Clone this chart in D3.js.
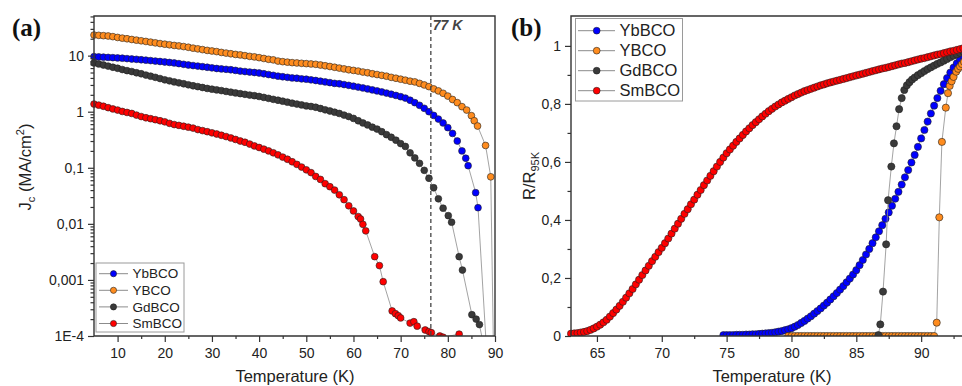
<!DOCTYPE html>
<html>
<head>
<meta charset="utf-8">
<script src="https://cdn.jsdelivr.net/npm/d3@7"></script>
<style>
  body { margin: 0; background: #fff; }
  svg { display: block; }
</style>
</head>
<body>
<script>

// ---------- data (a): Jc vs T, [T (K), Jc (MA/cm2)] ----------
const ybbcoJc = [[5,9.6],[6,9.5],[7,9.4],[8,9.3],[9,9.2],[10,9.1],[11,9.0],[12,8.85],[13,8.7],[14,8.6],[15,8.45],[16,8.3],[17,8.15],[18,8.0],[19,7.85],[20,7.7],[21,7.55],[22,7.4],[23,7.2],[24,7.0],[25,6.8],[26,6.65],[27,6.5],[28,6.35],[29,6.2],[30,6.05],[31,5.9],[32,5.8],[33,5.7],[34,5.6],[35,5.45],[36,5.3],[37,5.2],[38,5.1],[39,5.0],[40,4.9],[41,4.75],[42,4.6],[43,4.45],[44,4.3],[45,4.2],[46,4.1],[47,4.0],[48,3.95],[49,3.85],[50,3.8],[51,3.7],[52,3.6],[53,3.5],[54,3.4],[55,3.3],[56,3.2],[57,3.15],[58,3.05],[59,2.95],[60,2.85],[61,2.75],[62,2.65],[63,2.55],[64,2.45],[65,2.35],[66,2.25],[67,2.15],[68,2.05],[69,1.95],[70,1.85],[71,1.75],[72,1.6],[73,1.45],[74,1.3],[75,1.15],[76,1.0],[77,0.86],[78,0.74],[79,0.63],[80,0.52],[81,0.41],[82,0.3],[83,0.2],[83.8,0.148],[84.3,0.109],[85.9,0.036],[86.4,0.0194],[88.4,0.00003]];
const ybcoJc = [[5,23.3],[6,23.0],[7,22.7],[8,22.4],[9,21.8],[10,21.1],[11,20.5],[12,20.0],[13,19.4],[14,18.9],[15,18.4],[16,17.9],[17,17.4],[18,16.9],[19,16.4],[20,16.0],[21,15.6],[22,15.2],[23,14.9],[24,14.5],[25,14.1],[26,13.6],[27,13.2],[28,12.8],[29,12.4],[30,12.1],[31,11.8],[32,11.4],[33,11.1],[34,10.8],[35,10.5],[36,10.3],[37,10.0],[38,9.7],[39,9.5],[40,9.2],[41,8.9],[42,8.6],[43,8.4],[44,8.0],[45,7.8],[46,7.65],[47,7.5],[48,7.4],[49,7.3],[50,7.2],[51,7.1],[52,7.0],[53,6.8],[54,6.6],[55,6.4],[56,6.2],[57,6.0],[58,5.8],[59,5.6],[60,5.45],[61,5.3],[62,5.1],[63,4.95],[64,4.75],[65,4.6],[66,4.45],[67,4.3],[68,4.1],[69,3.95],[70,3.8],[71,3.65],[72,3.5],[73,3.4],[74,3.2],[75,3.0],[76,2.8],[77,2.55],[78,2.35],[79,2.13],[80,1.9],[81,1.65],[82,1.45],[83,1.23],[84,1.07],[85,0.85],[85.6,0.69],[86.3,0.556],[88.0,0.25],[89.1,0.069],[90,0.000001]];
const gdbcoJc = [[5,7.4],[6,7.1],[7,6.8],[8,6.5],[9,6.2],[10,5.95],[11,5.65],[12,5.4],[13,5.2],[14,4.95],[15,4.75],[16,4.5],[17,4.3],[18,4.1],[19,3.9],[20,3.7],[21,3.55],[22,3.4],[23,3.27],[24,3.15],[25,3.02],[26,2.9],[27,2.8],[28,2.7],[29,2.6],[30,2.52],[31,2.45],[32,2.38],[33,2.3],[34,2.23],[35,2.16],[36,2.1],[37,2.04],[38,1.98],[39,1.93],[40,1.87],[41,1.8],[42,1.73],[43,1.66],[44,1.6],[45,1.54],[46,1.48],[47,1.42],[48,1.37],[49,1.32],[50,1.27],[51,1.24],[52,1.2],[53,1.14],[54,1.08],[55,1.03],[56,0.98],[57,0.93],[58,0.87],[59,0.82],[60,0.76],[61,0.69],[62,0.63],[63,0.58],[64,0.53],[65,0.49],[66,0.44],[67,0.39],[68,0.35],[69,0.31],[70,0.27],[71,0.24],[72,0.185],[73,0.15],[74,0.12],[75,0.09],[76,0.065],[77,0.044],[78,0.028],[79,0.019],[80.1,0.014],[80.8,0.0107],[82.4,0.0026],[83.1,0.0015],[85.1,0.00024],[86.0,0.0002],[86.7,0.00016],[87.9,0.00005]];
const smbcoJc = [[5,1.37],[6,1.31],[7,1.25],[8,1.18],[9,1.12],[10,1.07],[11,1.01],[12,0.97],[13,0.93],[14,0.87],[15,0.82],[16,0.78],[17,0.75],[18,0.72],[19,0.69],[20,0.66],[21,0.62],[22,0.59],[23,0.57],[24,0.55],[25,0.53],[26,0.51],[27,0.48],[28,0.46],[29,0.44],[30,0.42],[31,0.40],[32,0.38],[33,0.36],[34,0.34],[35,0.32],[36,0.30],[37,0.285],[38,0.265],[39,0.245],[40,0.23],[41,0.215],[42,0.20],[43,0.185],[44,0.17],[45,0.155],[46,0.142],[47,0.128],[48,0.115],[49,0.103],[50,0.092],[51,0.082],[52,0.07],[53,0.062],[54,0.052],[55,0.046],[56,0.04],[57,0.033],[58,0.027],[59,0.021],[60,0.017],[61,0.0135],[61.5,0.0122],[62,0.0098],[62.6,0.0075],[64.5,0.0026],[65.5,0.0018],[66.3,0.00093],[68.2,0.00028],[68.9,0.00025],[69.5,0.00023],[70.0,0.00021],[72.0,0.00017],[72.8,0.00018],[73.5,0.00015],[75.2,0.000128],[76.0,0.00012],[76.5,0.000115],[78.3,0.0001],[79.0,0.000095],[82.4,0.000108]];

// ---------- data (b): R/R95K vs T, [T (K), R/R95K] ----------
const ybbcoR = [[74.75,0.003],[75,0.003],[75.25,0.003],[75.5,0.003],[75.75,0.004],[76,0.004],[76.25,0.004],[76.5,0.005],[76.75,0.005],[77,0.006],[77.25,0.006],[77.5,0.007],[77.75,0.008],[78,0.009],[78.25,0.010],[78.5,0.011],[78.75,0.013],[79,0.015],[79.25,0.017],[79.5,0.020],[79.75,0.023],[80,0.027],[80.25,0.032],[80.5,0.038],[80.75,0.045],[81,0.052],[81.25,0.060],[81.5,0.068],[81.75,0.077],[82,0.086],[82.25,0.095],[82.5,0.105],[82.75,0.115],[83,0.126],[83.25,0.137],[83.5,0.148],[83.75,0.160],[84,0.172],[84.25,0.185],[84.5,0.198],[84.75,0.212],[85,0.227],[85.25,0.244],[85.5,0.262],[85.75,0.281],[86,0.300],[86.25,0.320],[86.5,0.340],[86.75,0.361],[87,0.382],[87.25,0.404],[87.5,0.426],[87.75,0.449],[88,0.473],[88.25,0.497],[88.5,0.522],[88.75,0.547],[89,0.572],[89.25,0.598],[89.5,0.624],[89.75,0.652],[90,0.681],[90.25,0.710],[90.5,0.739],[90.75,0.767],[91,0.794],[91.25,0.820],[91.5,0.845],[91.75,0.868],[92,0.889],[92.25,0.908],[92.5,0.925],[92.75,0.940],[93,0.953],[93.25,0.965]];
const ybcoR = [[79.75,0],[80,0],[80.25,0],[80.5,0],[80.75,0],[81,0],[81.25,0],[81.5,0],[81.75,0],[82,0],[82.25,0],[82.5,0],[82.75,0],[83,0],[83.25,0],[83.5,0],[83.75,0],[84,0],[84.25,0],[84.5,0],[84.75,0],[85,0],[85.25,0],[85.5,0],[85.75,0],[86,0],[86.25,0],[86.5,0],[86.75,0],[87,0],[87.25,0],[87.5,0],[87.75,0],[88,0],[88.25,0],[88.5,0],[88.75,0],[89,0],[89.25,0],[89.5,0],[89.75,0],[90,0],[90.25,0],[90.5,0],[90.75,0],[91,0],[91.2,0.046],[91.4,0.409],[91.6,0.669],[91.9,0.787],[92.07,0.837],[92.2,0.862],[92.35,0.878],[92.5,0.893],[92.7,0.911],[92.85,0.921],[93,0.929],[93.15,0.937],[93.3,0.945]];
const gdbcoR = [[86.7,0.003],[86.85,0.040],[87.06,0.153],[87.3,0.316],[87.45,0.468],[87.7,0.584],[87.9,0.664],[88.1,0.723],[88.3,0.782],[88.5,0.820],[88.7,0.848],[88.9,0.864],[89.1,0.875],[89.3,0.884],[89.5,0.891],[89.75,0.899],[90,0.906],[90.25,0.913],[90.5,0.920],[90.75,0.926],[91,0.932],[91.25,0.938],[91.5,0.943],[91.75,0.949],[92,0.955],[92.25,0.961],[92.5,0.966],[92.75,0.971],[93,0.976],[93.25,0.981]];
const smbcoR = [[63,0.008],[63.25,0.009],[63.5,0.010],[63.75,0.012],[64,0.014],[64.25,0.017],[64.5,0.021],[64.75,0.026],[65,0.032],[65.25,0.039],[65.5,0.047],[65.75,0.056],[66,0.067],[66.25,0.079],[66.5,0.091],[66.75,0.104],[67,0.118],[67.25,0.132],[67.5,0.147],[67.75,0.162],[68,0.178],[68.25,0.194],[68.5,0.210],[68.75,0.226],[69,0.242],[69.25,0.258],[69.5,0.273],[69.75,0.289],[70,0.304],[70.25,0.320],[70.5,0.336],[70.75,0.353],[71,0.370],[71.25,0.387],[71.5,0.404],[71.75,0.421],[72,0.437],[72.25,0.454],[72.5,0.470],[72.75,0.487],[73,0.503],[73.25,0.520],[73.5,0.536],[73.75,0.552],[74,0.568],[74.25,0.584],[74.5,0.600],[74.75,0.615],[75,0.630],[75.25,0.643],[75.5,0.656],[75.75,0.669],[76,0.681],[76.25,0.693],[76.5,0.705],[76.75,0.716],[77,0.727],[77.25,0.737],[77.5,0.747],[77.75,0.757],[78,0.766],[78.25,0.775],[78.5,0.783],[78.75,0.791],[79,0.798],[79.25,0.805],[79.5,0.811],[79.75,0.817],[80,0.823],[80.25,0.829],[80.5,0.834],[80.75,0.839],[81,0.844],[81.25,0.848],[81.5,0.852],[81.75,0.856],[82,0.860],[82.25,0.864],[82.5,0.867],[82.75,0.871],[83,0.874],[83.25,0.877],[83.5,0.880],[83.75,0.883],[84,0.886],[84.25,0.889],[84.5,0.892],[84.75,0.895],[85,0.898],[85.25,0.901],[85.5,0.904],[85.75,0.907],[86,0.910],[86.25,0.913],[86.5,0.916],[86.75,0.919],[87,0.922],[87.25,0.924],[87.5,0.927],[87.75,0.930],[88,0.933],[88.25,0.936],[88.5,0.939],[88.75,0.941],[89,0.944],[89.25,0.947],[89.5,0.950],[89.75,0.953],[90,0.956],[90.25,0.958],[90.5,0.961],[90.75,0.964],[91,0.967],[91.25,0.970],[91.5,0.972],[91.75,0.975],[92,0.978],[92.25,0.981],[92.5,0.983],[92.75,0.986],[93,0.989],[93.25,0.992]];

const names = ["YbBCO", "YBCO", "GdBCO", "SmBCO"];
const colors = ["#0000ff", "#ff8c1e", "#3a3a3a", "#ff0000"];

const xTicksA = [10, 20, 30, 40, 50, 60, 70, 80, 90];
const xMinorA = [15, 25, 35, 45, 55, 65, 75, 85];
const yTicksA = [1e-4, 1e-3, 1e-2, 1e-1, 1, 10];
const yTickLabelsA = ["1E-4", "0,001", "0,01", "0,1", "1", "10"];

const xTicksB = [65, 70, 75, 80, 85, 90];
const xMinorB = [67.5, 72.5, 77.5, 82.5, 87.5, 92.5];
const yTicksB = [0, 0.2, 0.4, 0.6, 0.8, 1];
const yTickLabelsB = ["0", "0,2", "0,4", "0,6", "0,8", "1"];
const yMinorB = [0.1, 0.3, 0.5, 0.7, 0.9];

const refT = 76.4; // the "77 K" dashed line

const FONT = "'Liberation Sans', Arial, sans-serif";

const svg = d3.select("body").append("svg")
    .attr("width", 962)
    .attr("height", 386);

// plot boxes
var A = {left: 94, right: 495, top: 16, bottom: 336};
var B = {left: 571, right: 986, top: 16, bottom: 336};

var xA = d3.scaleLinear().domain([5, 90]).range([A.left, A.right]);
var yA = d3.scaleLog().domain([1e-4, 50.9]).range([A.bottom, A.top]);
var xB = d3.scaleLinear().domain([63, 95]).range([B.left, B.right]);
var yB = d3.scaleLinear().domain([0, 1.103]).range([B.bottom, B.top]);

var defs = svg.append("defs");
defs.append("clipPath").attr("id", "clipA").append("rect")
    .attr("x", A.left - 12).attr("y", 0).attr("width", A.right - A.left + 24).attr("height", A.bottom);
defs.append("clipPath").attr("id", "clipB").append("rect")
    .attr("x", B.left - 4).attr("y", 0).attr("width", 400).attr("height", B.bottom);

function styleAxis(g) {
    g.select(".domain").remove();
    g.attr("font-family", FONT).attr("font-size", 14);
    g.selectAll("line").attr("stroke", "#333").attr("stroke-width", 1.2);
    g.selectAll("text").attr("fill", "#222");
}

function drawAxes(x, y, box, xt, xm, yt, ylab, ym) {
    svg.append("g").attr("transform", "translate(0," + box.bottom + ")")
        .call(d3.axisBottom(x).tickValues(xt).tickSize(6).tickPadding(6).tickFormat(d3.format("d")))
        .call(styleAxis);
    svg.append("g").attr("transform", "translate(0," + box.bottom + ")")
        .call(d3.axisBottom(x).tickValues(xm).tickSize(3).tickFormat(""))
        .call(styleAxis);
    svg.append("g").attr("transform", "translate(" + box.left + ",0)")
        .call(d3.axisLeft(y).tickValues(yt).tickSize(6).tickPadding(4).tickFormat((d, i) => ylab[i]))
        .call(styleAxis);
    svg.append("g").attr("transform", "translate(" + box.left + ",0)")
        .call(d3.axisLeft(y).tickValues(ym).tickSize(3.5).tickFormat(""))
        .call(styleAxis);
}

function drawSeries(g, data, x, y, color, r) {
    var line = d3.line().x(d => x(d[0])).y(d => y(d[1]));
    g.append("path")
        .attr("d", line(data))
        .attr("fill", "none")
        .attr("stroke", "#8c8c8c")
        .attr("stroke-width", 0.8);
    g.selectAll(null)
        .data(data)
        .enter()
        .append("circle")
        .attr("cx", d => x(d[0]))
        .attr("cy", d => y(d[1]))
        .attr("r", r)
        .attr("fill", color)
        .attr("stroke", "#222")
        .attr("stroke-width", 0.6);
}

function drawLegend(lx, ly, w, h, x0, x1, xm, xt, y0, dy, fs, r) {
    var g = svg.append("g");
    g.append("rect").attr("x", lx).attr("y", ly).attr("width", w).attr("height", h)
        .attr("fill", "#fff").attr("stroke", "#9a9a9a").attr("stroke-width", 1);
    names.forEach(function (n, i) {
        var yy = y0 + i * dy;
        g.append("line").attr("x1", x0).attr("x2", x1).attr("y1", yy).attr("y2", yy)
            .attr("stroke", "#8c8c8c").attr("stroke-width", 1);
        g.append("circle").attr("cx", xm).attr("cy", yy).attr("r", r)
            .attr("fill", colors[i]).attr("stroke", "#222").attr("stroke-width", 0.6);
        g.append("text").attr("x", xt).attr("y", yy).attr("dy", "0.35em")
            .attr("font-family", FONT).attr("font-size", fs).attr("fill", "#222").text(n);
    });
}

// ---------- panel (a) ----------
var gA = svg.append("g").attr("clip-path", "url(#clipA)");
// 77 K line
svg.append("line")
    .attr("x1", xA(refT)).attr("x2", xA(refT)).attr("y1", A.top).attr("y2", A.bottom)
    .attr("stroke", "#444").attr("stroke-width", 1.3).attr("stroke-dasharray", "4,3");
[ybbcoJc, ybcoJc, gdbcoJc, smbcoJc].forEach(function (s, i) {
    drawSeries(gA, s, xA, yA, colors[i], 3.4);
});

var minorA = yA.ticks().filter(d => yTicksA.indexOf(d) < 0 && d <= 50);
drawAxes(xA, yA, A, xTicksA, xMinorA, yTicksA, yTickLabelsA, minorA);

svg.append("path")
    .attr("d", "M" + A.left + "," + A.bottom + "V" + A.top + "H" + A.right + "V" + A.bottom + "H" + A.left)
    .attr("fill", "none").attr("stroke", "#333").attr("stroke-width", 1.4);

svg.append("text").attr("x", xA(refT) + 2).attr("y", 30)
    .attr("font-family", FONT).attr("font-size", 14).attr("font-weight", "bold")
    .attr("font-style", "italic").attr("fill", "#444").text("77 K");

drawLegend(96, 263, 88, 69, 99, 128, 113.5, 132.5, 273.7, 16.6, 13.5, 3.1);

// ---------- panel (b) ----------
var gB = svg.append("g").attr("clip-path", "url(#clipB)");
[ybbcoR, ybcoR, gdbcoR, smbcoR].forEach(function (s, i) {
    drawSeries(gB, s, xB, yB, colors[i], 3.6);
});

drawAxes(xB, yB, B, xTicksB, xMinorB, yTicksB, yTickLabelsB, yMinorB);

svg.append("path")
    .attr("d", "M" + B.right + "," + B.bottom + "H" + B.left + "V" + B.top + "H" + B.right)
    .attr("fill", "none").attr("stroke", "#333").attr("stroke-width", 1.4);

drawLegend(575.5, 18.5, 107, 82.5, 578, 615, 596.7, 619.5, 30.7, 20, 16.5, 3.4);

// ---------- titles ----------
svg.append("text").attr("x", 12).attr("y", 36)
    .attr("font-family", "'Liberation Serif', 'Times New Roman', serif")
    .attr("font-size", 25).attr("font-weight", "bold").attr("fill", "#111").text("(a)");
svg.append("text").attr("x", 511).attr("y", 36)
    .attr("font-family", "'Liberation Serif', 'Times New Roman', serif")
    .attr("font-size", 25).attr("font-weight", "bold").attr("fill", "#111").text("(b)");

[[295, "Temperature (K)"], [772, "Temperature (K)"]].forEach(function (t) {
    svg.append("text").attr("x", t[0]).attr("y", 382).attr("text-anchor", "middle")
        .attr("font-family", FONT).attr("font-size", 16.5).attr("fill", "#222").text(t[1]);
});

var jl = svg.append("text")
    .attr("transform", "translate(31,167) rotate(-90)")
    .attr("text-anchor", "middle")
    .attr("font-family", FONT).attr("font-size", 16.5).attr("fill", "#222");
jl.append("tspan").text("J");
jl.append("tspan").attr("font-size", 11).attr("dy", 4).text("c");
jl.append("tspan").attr("dy", -4).text(" (MA/cm");
jl.append("tspan").attr("font-size", 11).attr("dy", -7).text("2");
jl.append("tspan").attr("dy", 7).text(")");

var rl = svg.append("text")
    .attr("transform", "translate(535,176) rotate(-90)")
    .attr("text-anchor", "middle")
    .attr("font-family", FONT).attr("font-size", 16.5).attr("fill", "#222");
rl.append("tspan").text("R/R");
rl.append("tspan").attr("font-size", 11).attr("dy", 4).text("95K");

</script>
</body>
</html>
